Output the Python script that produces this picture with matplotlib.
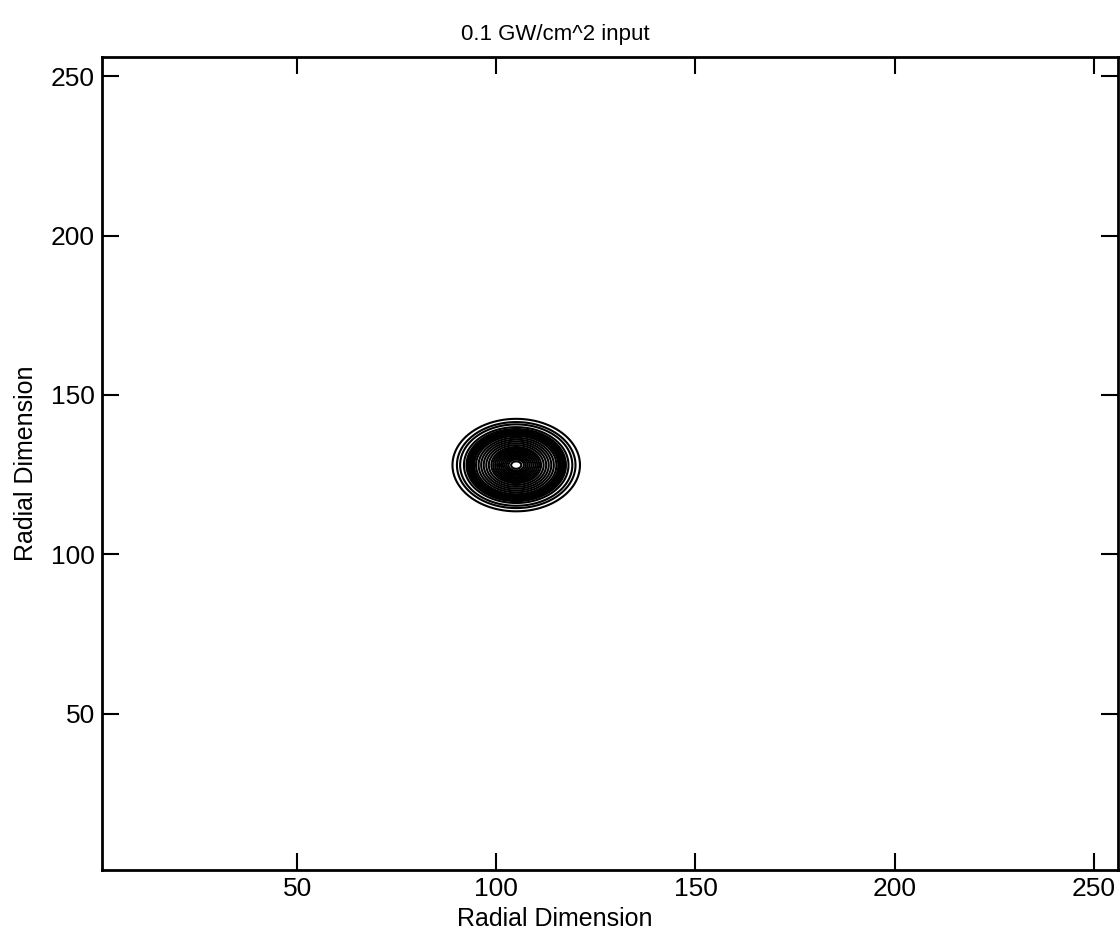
import numpy as np
import matplotlib.pyplot as plt

plt.rcParams['font.family'] = ['Liberation Sans', 'DejaVu Sans']

# -----------------------------
# DATA
# -----------------------------

grid_min = 1
grid_max = 256

beam_center = [105, 128]     # (x, y) of the spot
beam_radius = [16.0, 14.5]   # semi-axes of the outer contour

# contour levels, as fraction of the outer radius
ring_levels = [
    0.08, 0.12, 0.15, 0.18, 0.21, 0.24, 0.27, 0.30, 0.33, 0.36, 0.39,
    0.43, 0.47, 0.51, 0.55, 0.59, 0.63,
    0.66, 0.68, 0.70, 0.72, 0.74, 0.76, 0.78,
    0.82, 0.88, 0.93, 1.0,
]

ticks = [50, 100, 150, 200, 250]

# -----------------------------
# FIELD
# -----------------------------

xs = np.arange(grid_min, grid_max + 0.01, 0.25)
ys = np.arange(grid_min, grid_max + 0.01, 0.25)
X, Y = np.meshgrid(xs, ys)
R = np.sqrt(
    ((X - beam_center[0]) / beam_radius[0])**2 +
    ((Y - beam_center[1]) / beam_radius[1])**2
)

# -----------------------------
# PLOT
# -----------------------------

fig = plt.figure(figsize=(11.2, 9.43), dpi=100)
ax = fig.add_axes([0.091, 0.0774, 0.907, 0.8622])

ax.contour(
    X, Y, R,
    levels=ring_levels,
    colors='k',
    linewidths=1.5
)

ax.set_xlim(grid_min, grid_max)
ax.set_ylim(grid_min, grid_max)
ax.set_xticks(ticks)
ax.set_yticks(ticks)

ax.tick_params(
    direction='in',
    top=True,
    right=True,
    length=12,
    width=1.5,
    labelsize=19,
    pad=5
)
for s in ax.spines.values():
    s.set_linewidth(2)

ax.set_title("0.1 GW/cm^2 input", fontsize=16, x=0.446, pad=12)
ax.set_xlabel("Radial Dimension", fontsize=18)
ax.xaxis.set_label_coords(0.446, -0.045)
ax.set_ylabel("Radial Dimension", fontsize=18)
ax.yaxis.set_label_coords(-0.063, 0.5)

fig.savefig("out.png", dpi=100)
